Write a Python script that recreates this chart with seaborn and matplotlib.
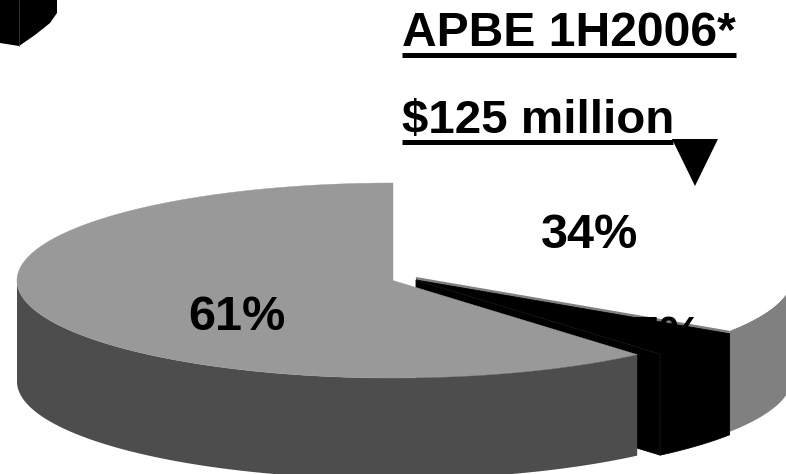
import numpy as np
import matplotlib
matplotlib.use("Agg")
import matplotlib.pyplot as plt
import seaborn as sns

# Data
segments = ["White", "Black", "Gray"]
shares = [34.3, 4.45, 61.25]
pct_labels = ["34%", "5%", "61%"]
title_lines = ["APBE 1H2006*", "$125 million"]

# Style
top_colors = ["#ffffff", "#000000", "#999999"]
wall_colors = ["#808080", "#000000", "#4d4d4d"]
RX, RY, DEPTH = 376, 97.5, 101
centers = [(416, 277), (416, 280), (393, 280.5)]

sns.set_theme(style="white")
plt.rcParams["font.family"] = ["Liberation Sans", "DejaVu Sans"]

fig = plt.figure(figsize=(7.86, 4.74), dpi=100)
ax = fig.add_axes([0, 0, 1, 1])
ax.set_xlim(0, 786)
ax.set_ylim(474, 0)
ax.axis("off")

edges = np.concatenate([[0], np.cumsum(shares)]) / 100 * 2 * np.pi


def rim(center, a0, a1, n=200):
    t = np.linspace(a0, a1, n)
    return center[0] + RX * np.sin(t), center[1] - RY * np.cos(t)


def top(i, z, lw=0):
    x, y = rim(centers[i], edges[i], edges[i + 1])
    ax.fill(np.r_[centers[i][0], x], np.r_[centers[i][1], y],
            facecolor=top_colors[i], edgecolor=top_colors[i], lw=lw, zorder=z)


def wall(i, a0, a1, z, lw=0):
    x, y = rim(centers[i], a0, a1)
    ax.fill(np.r_[x, x[::-1]], np.r_[y, y[::-1] + DEPTH],
            facecolor=wall_colors[i], edgecolor=wall_colors[i], lw=lw, zorder=z)


def inner(i, a, z, lw=0):
    cx, cy = centers[i]
    x, y = rim(centers[i], a, a, 1)
    ax.fill([cx, x[0], x[0], cx], [cy, y[0], y[0] + DEPTH, cy + DEPTH],
            facecolor=wall_colors[i], edgecolor=wall_colors[i], lw=lw, zorder=z)
    return x[0], y[0]


# White slice
wall(0, np.pi / 2, edges[1], 1)
top(0, 2)
inner(0, edges[1], 3)

# 5% label sits over the thin gray edge but beneath the black slice
ax.text(668, 350, pct_labels[1], fontsize=35, fontweight="bold", ha="center",
        va="baseline", color="black", zorder=3.5)

# Black slice
wall(1, edges[1], edges[2], 4, lw=0.6)
ex, ey = inner(1, edges[2], 4, lw=0.6)
top(1, 5, lw=0.6)
cx, cy = centers[1]
ax.plot([cx, ex], [cy, ey], color="#2a2a2a", lw=0.3, zorder=6)
ax.plot([ex, ex], [ey, ey + DEPTH], color="#2a2a2a", lw=0.3, zorder=6)

# Gray slice
wall(2, edges[2], 1.5 * np.pi, 7)
top(2, 8, lw=0.3)

# Labels
ax.text(589.5, 248, pct_labels[0], fontsize=35, fontweight="bold", ha="center",
        va="baseline", color="black", zorder=10)
ax.text(237, 330, pct_labels[2], fontsize=35, fontweight="bold", ha="center",
        va="baseline", color="black", zorder=10)

# Title lines with heavy underlines
ax.text(402, 46, title_lines[0], fontsize=34.6, fontweight="bold", ha="left",
        va="baseline", color="black", zorder=10)
ax.text(402, 133, title_lines[1], fontsize=34.2, fontweight="bold", ha="left",
        va="baseline", color="black", zorder=10)
ax.plot([402, 736], [54.5, 54.5], color="black", lw=3.6, solid_capstyle="butt", zorder=10)
ax.plot([402, 673], [141.5, 141.5], color="black", lw=3.6, solid_capstyle="butt", zorder=10)

# Down-pointing marker
ax.fill([672, 718, 695], [139, 139, 186], color="black", lw=0, zorder=11)

# Cropped swatch in the top-left corner
ax.fill([0, 57, 57, 50, 35, 19, 0], [0, 0, 13, 23, 35, 46, 43], color="black", lw=0, zorder=10)
ax.plot([19, 19], [0, 46], color="#444444", lw=0.5, zorder=11)

fig.savefig("out.png", dpi=100, facecolor="white")
